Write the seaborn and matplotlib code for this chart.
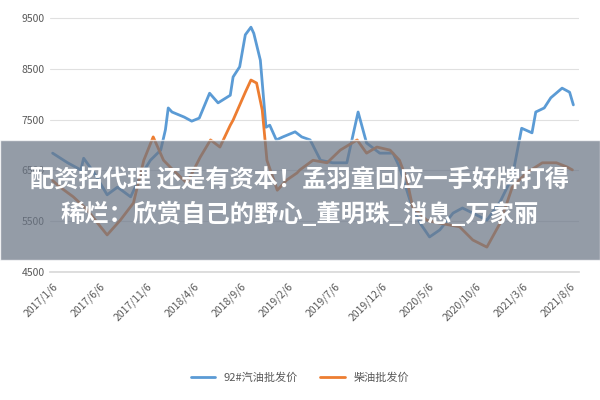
import matplotlib
matplotlib.use("Agg")
import matplotlib.pyplot as plt
import seaborn as sns
import pandas as pd
from matplotlib.patches import Rectangle

tick_labels = ["2017/1/6","2017/6/6","2017/11/6","2018/4/6","2018/9/6","2019/2/6",
               "2019/7/6","2019/12/6","2020/5/6","2020/10/6","2021/3/6","2021/8/6"]
tick_pos = [0, 5, 10, 15, 20, 25, 30, 35, 40, 45, 50, 55]

gas_x = [0,1.6,3.0,3.3,4.35,5.8,6.9,8.3,9.3,10.4,11.5,12.0,12.3,12.7,14.0,14.8,15.6,16.7,17.6,18.9,
         19.2,19.9,20.5,21.1,21.4,22.1,22.7,23.1,23.8,24.5,25.8,26.5,27.4,28.5,29.8,31.3,32.5,33.4,
         34.8,36.2,36.9,38.0,39.1,40.1,41.2,42.6,43.6,44.7,46.2,47.6,48.9,49.9,51.0,51.4,52.3,53.0,
         54.2,55.0,55.4]
gas_y = [6840,6650,6510,6740,6470,6020,6170,5980,6370,6700,6900,7300,7730,7650,7550,7470,7530,8020,
         7830,7980,8340,8540,9170,9320,9200,8670,7350,7390,7100,7160,7260,7160,7100,6700,6650,6650,
         7650,7040,6840,6840,6570,5920,5460,5190,5330,5660,5760,5660,5520,5880,6370,7330,7240,7650,
         7730,7930,8120,8040,7790]

diesel_x = [0,0.8,2.2,3.7,5.1,5.8,7.2,8.6,9.7,10.7,11.8,12.8,14.3,15.7,16.8,17.8,18.9,19.2,20.5,21.1,
            21.7,22.3,22.8,23.9,24.9,26.0,26.3,27.7,29.2,30.6,32.4,33.4,34.5,35.9,36.9,37.7,38.3,39.8,
            41.2,43.3,44.7,46.2,47.6,48.9,50.4,52.1,53.6,54.7,55.3]
diesel_y = [6300,6170,5980,5720,5390,5230,5520,5860,6700,7160,6700,6510,6250,6760,7100,6960,7390,7490,
            8040,8280,8220,7690,6700,6110,6310,6450,6510,6700,6650,6900,7100,6840,6960,6900,6700,6310,
            5780,5520,5460,5390,5130,4990,5460,6170,6450,6650,6650,6570,6510]

names = ["92#汽油批发价", "柴油批发价"]
title_lines = ["配资招代理 还是有资本！孟羽童回应一手好牌打得", "稀烂：欣赏自己的野心_董明珠_消息_万家丽"]

df = pd.concat([
    pd.DataFrame({"x": gas_x, "y": gas_y, "s": names[0]}),
    pd.DataFrame({"x": diesel_x, "y": diesel_y, "s": names[1]}),
])

sns.set_theme(style="white")
plt.rcParams['font.family'] = ['Noto Sans CJK SC', 'DejaVu Sans']

fig = plt.figure(figsize=(6, 4), dpi=100)
ax = fig.add_axes([0.083, 0.32, 0.882, 0.6425])
sns.lineplot(data=df, x="x", y="y", hue="s", palette=["#5b9bd5", "#ed7d31"],
             linewidth=2, ax=ax, sort=False, estimator=None)
ax.set_xlim(-0.3, 56)
ax.set_ylim(4500, 9560)
ax.set_yticks([4500, 5500, 6500, 7500, 8500, 9500])
ax.set_xticks(tick_pos)
ax.set_xticklabels(tick_labels, rotation=45, ha="right", rotation_mode="anchor")
ax.tick_params(axis="x", colors="#595959", labelsize=7.5, length=3, color="#d9d9d9")
ax.tick_params(axis="y", colors="#595959", labelsize=7.5, length=0)
ax.yaxis.grid(True, color="#e0e0e0", linewidth=0.8)
for s in ["top", "right", "left"]:
    ax.spines[s].set_visible(False)
ax.spines["bottom"].set_color("#d9d9d9")
ax.set_xlabel("")
ax.set_ylabel("")
leg = ax.legend(loc="center", bbox_to_anchor=(0.5, 0.055), bbox_transform=fig.transFigure,
                ncol=2, frameon=False, fontsize=8, handlelength=2.2)
for t in leg.get_texts():
    t.set_color("#595959")

fig.patches.append(Rectangle((0, 0.35), 1, 0.3, transform=fig.transFigure,
                             facecolor="#6b7686", alpha=0.72, zorder=5))
fig.text(0.5, 0.548, title_lines[0], ha="center", va="center", color="white",
         fontsize=17.5, fontweight="bold", zorder=6)
fig.text(0.5, 0.465, title_lines[1], ha="center", va="center", color="white",
         fontsize=17.5, fontweight="bold", zorder=6)

fig.savefig("out.png", dpi=100)
